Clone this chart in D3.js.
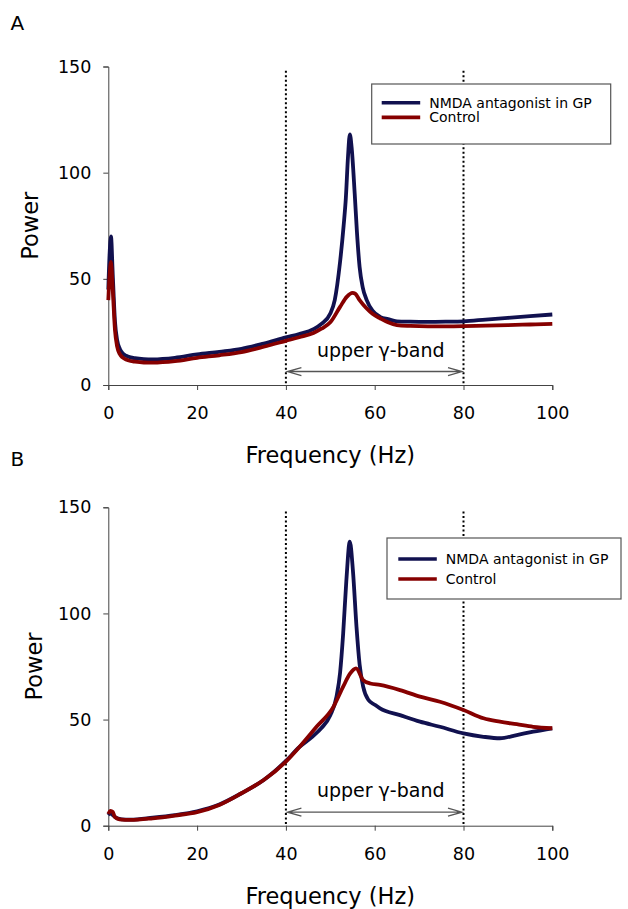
<!DOCTYPE html>
<html>
<head>
<meta charset="utf-8">
<script src="https://cdn.jsdelivr.net/npm/d3@7"></script>
<style>
  body { margin: 0; background: #fff; }
  text { font-family: "DejaVu Sans", sans-serif; fill: #000; }
</style>
</head>
<body>
<div id="chart-area"></div>
<script>
// values
const seriesNames = ["NMDA antagonist in GP", "Control"];
const xTicks = [0, 20, 40, 60, 80, 100];
const yTicks = [0, 50, 100, 150];
const bandEdges = [40, 80];

const freqA_nmda = [0, 0.3, 0.6, 1, 1.5, 2, 2.6, 3.2, 4, 5, 6, 8, 10, 15, 20, 25, 30, 35, 40, 43, 46.2, 48, 50, 51, 52.2, 53, 53.5, 54, 54.4, 54.8, 55.5, 56, 56.6, 57.3, 58.2, 59.5, 61.3, 63, 65, 68, 72, 76, 80, 85, 90, 95, 100];
const powerA_nmda = [45, 62, 70, 52, 30, 21, 17, 15, 13.8, 13, 12.6, 12.2, 12.1, 12.8, 14.4, 15.6, 17, 19.5, 22.4, 24, 26.3, 28.8, 33.7, 40, 58, 75, 88, 108, 118, 112, 90, 72, 55.6, 46, 40, 35, 32, 31, 30, 29.8, 29.7, 29.8, 30, 30.8, 31.6, 32.4, 33.2];

const freqA_ctrl = [0, 0.3, 0.6, 1, 1.5, 2, 2.6, 3.2, 4, 5, 6, 8, 10, 15, 20, 25, 30, 35, 40, 43, 46.2, 48, 50, 52.2, 53.7, 55, 55.6, 56.6, 58.2, 59.5, 61.3, 63, 65, 68, 72, 76, 80, 85, 90, 95, 100];
const powerA_ctrl = [40, 52, 58, 45, 26, 18, 14.5, 13, 12, 11.3, 11, 10.6, 10.5, 11.2, 12.8, 14, 15.5, 18, 20.8, 22.5, 24.5, 26.5, 29.5, 36.8, 41.5, 43.4, 43, 40, 36, 33.5, 31.3, 29.5, 28.2, 27.8, 27.6, 27.6, 27.7, 28, 28.2, 28.5, 28.8];

const freqB_nmda = [0, 0.5, 1, 2, 3, 5, 10, 15, 20, 25, 30, 35, 40, 43, 46, 48, 50, 51.4, 52.2, 52.9, 53.6, 54.4, 55.1, 55.9, 56.6, 57.4, 58.6, 60, 61.2, 65.7, 70.2, 74.7, 80, 84.5, 88.2, 92, 95.7, 100];
const powerB_nmda = [5, 6, 5, 3.5, 3, 2.9, 3.8, 5, 6.8, 10, 15.3, 21.5, 30.5, 37, 42, 46, 52, 60.8, 72, 90.6, 115, 133.8, 120, 93.7, 76, 65.5, 59.2, 57, 55.3, 52.1, 49, 46.6, 43.5, 41.9, 41.2, 42.7, 44.3, 45.9];

const freqB_ctrl = [0, 0.5, 1, 1.5, 2.5, 5, 10, 15, 20, 25, 30, 35, 40, 43.1, 46.9, 50.7, 52.9, 54.4, 55.8, 57.4, 59, 61.2, 65.7, 70.2, 74.7, 80, 84.5, 88.2, 92, 95.7, 100];
const powerB_ctrl = [5.5, 7, 6.5, 4, 3, 2.7, 3.5, 4.8, 6.4, 9.8, 15.3, 21.5, 30.2, 37.2, 46.6, 56, 65.5, 71.5, 74.1, 68.6, 67, 66.3, 63.9, 60.8, 58.4, 54.5, 50.6, 49, 47.8, 46.6, 45.9];

const colors = ["#11114f", "#860000"];

const svg = d3.select("#chart-area")
  .append("svg")
    .attr("width", 628)
    .attr("height", 909);

const x = d3.scaleLinear()
  .domain([0, 100])
  .range([108.3, 552.3]);

const panels = [
  {
    label: "A", top: 66.5, bottom: 385,
    series: [[freqA_nmda, powerA_nmda], [freqA_ctrl, powerA_ctrl]],
    legend: { x: 371.7, y: 84, w: 239, h: 60, row1: 102.8, gap: 14.6, lineX: 381.7 },
    powerX: 37.5, labelY: 30
  },
  {
    label: "B", top: 507.3, bottom: 825.7,
    series: [[freqB_nmda, powerB_nmda], [freqB_ctrl, powerB_ctrl]],
    legend: { x: 387, y: 538, w: 234, h: 61, row1: 559, gap: 20, lineX: 398.3 },
    powerX: 42, labelY: 466
  }
];

panels.forEach(p => drawPanel(p));

function drawPanel(p) {
  const y = d3.scaleLinear()
    .domain([0, 150])
    .range([p.bottom, p.top]);

  const g = svg.append("g");

  // panel letter
  g.append("text")
    .attr("x", 10.5)
    .attr("y", p.labelY)
    .attr("font-size", "20px")
    .text(p.label);

  // dotted band edges
  bandEdges.forEach(f => {
    g.append("line")
      .attr("x1", x(f))
      .attr("x2", x(f))
      .attr("y1", y(148))
      .attr("y2", y(0))
      .attr("stroke", "#000")
      .attr("stroke-width", 2)
      .attr("stroke-dasharray", "2,2.5");
  });

  const xAxis = g.append("g")
    .attr("transform", `translate(0, ${y(0)})`)
    .call(d3.axisBottom(x).tickValues(xTicks).tickSizeOuter(0).tickSize(5).tickPadding(17));

  const yAxis = g.append("g")
    .attr("transform", `translate(${x(0)}, 0)`)
    .call(d3.axisLeft(y).tickValues(yTicks).tickSizeOuter(0).tickSize(5).tickPadding(12));

  [xAxis, yAxis].forEach(a => {
    a.select(".domain").attr("stroke", "#444");
    a.selectAll(".tick line").attr("stroke", "#444");
    a.selectAll(".tick text")
      .attr("font-family", "DejaVu Sans, sans-serif")
      .attr("font-size", "17.5px")
      .attr("fill", "#000");
  });

  // band arrow
  const arrowY = y(0) - 13.5;
  const x1 = x(bandEdges[0]) + 1.5;
  const x2 = x(bandEdges[1]) - 1.5;
  g.append("path")
    .attr("d", `M${x1},${arrowY}H${x2}M${x1 + 14},${arrowY - 4}L${x1},${arrowY}L${x1 + 14},${arrowY + 4}M${x2 - 14},${arrowY - 4}L${x2},${arrowY}L${x2 - 14},${arrowY + 4}`)
    .attr("fill", "none")
    .attr("stroke", "#555")
    .attr("stroke-width", 1.3);

  g.append("text")
    .attr("x", (x1 + x2) / 2 + 6)
    .attr("y", arrowY - 15)
    .attr("text-anchor", "middle")
    .attr("font-size", "19px")
    .text("upper γ-band");

  // curves
  const line = d3.line()
    .x(d => x(d[0]))
    .y(d => y(d[1]))
    .curve(d3.curveMonotoneX);

  p.series.forEach((s, i) => {
    const pts = s[0].map((f, j) => [f, s[1][j]]);
    g.append("path")
      .datum(pts)
      .attr("d", line)
      .attr("fill", "none")
      .attr("stroke", colors[i])
      .attr("stroke-width", 3.8)
      .attr("stroke-linejoin", "round");
  });

  // axis titles
  g.append("text")
    .attr("x", (x(0) + x(100)) / 2)
    .attr("y", y(0) + 78)
    .attr("text-anchor", "middle")
    .attr("font-size", "22.5px")
    .text("Frequency (Hz)");

  g.append("text")
    .attr("transform", `translate(${p.powerX}, ${(p.top + p.bottom) / 2}) rotate(-90)`)
    .attr("text-anchor", "middle")
    .attr("font-size", "22.5px")
    .text("Power");

  // legend
  const L = p.legend;
  g.append("rect")
    .attr("x", L.x)
    .attr("y", L.y)
    .attr("width", L.w)
    .attr("height", L.h)
    .attr("fill", "#fff")
    .attr("stroke", "#555")
    .attr("stroke-width", 1.2);

  seriesNames.forEach((name, i) => {
    const ly = L.row1 + i * L.gap;
    g.append("line")
      .attr("x1", L.lineX)
      .attr("x2", L.lineX + 38.5)
      .attr("y1", ly)
      .attr("y2", ly)
      .attr("stroke", colors[i])
      .attr("stroke-width", 3.6);
    g.append("text")
      .attr("x", L.lineX + 47.5)
      .attr("y", ly)
      .attr("dy", "0.36em")
      .attr("font-size", "14px")
      .text(name);
  });
}
</script>
</body>
</html>
